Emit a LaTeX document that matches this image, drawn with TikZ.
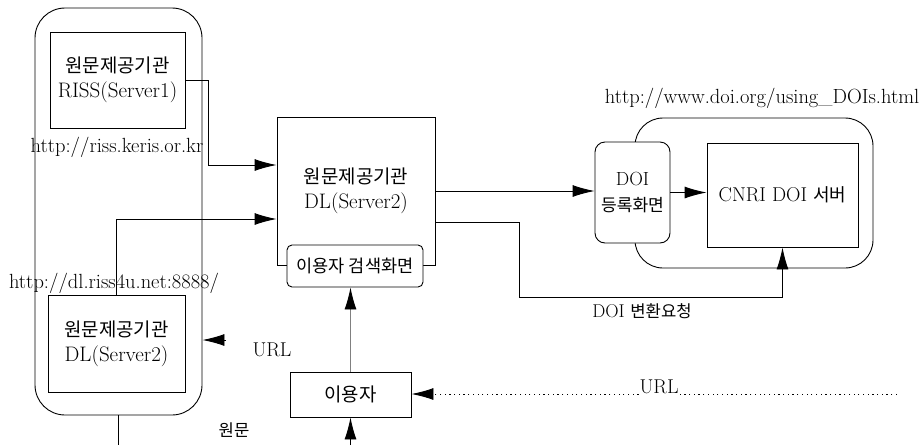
\documentclass[tikz,border=0pt]{standalone}
\usepackage{fontspec}
\newfontfamily\krfont[Scale=0.9]{Noto Sans CJK KR}
\usetikzlibrary{arrows.meta,calc}
\newcommand{\kr}[1]{{\krfont #1}}

\begin{document}
\begin{tikzpicture}[x=1pt,y=-1pt,line width=0.9pt,
    >={Latex[length=22pt,width=12pt]},
    box/.style={draw,fill=white,align=center,inner sep=2pt,
      font=\fontsize{21}{25}\selectfont},
    lbl/.style={inner sep=0pt,font=\fontsize{20.5}{24}\selectfont},
    small/.style={inner sep=0pt,font=\fontsize{18.5}{22}\selectfont}]
  \useasboundingbox (0,0) rectangle (919,445);

  \node[draw,rounded corners=30pt,minimum width=167pt,minimum height=407pt] (leftgrp) at (118.5,211.5) {};
  \node[draw,rounded corners=28pt,minimum width=238pt,minimum height=150pt] (doigrp) at (754,193) {};

  \node[box,minimum width=135pt,minimum height=96pt] (riss) at (117.5,80) {\kr{원문제공기관}\\RISS(Server1)};
  \node[box,minimum width=137pt,minimum height=97pt] (dl) at (116.5,343.5) {\kr{원문제공기관}\\DL(Server2)};
  \node[box,minimum width=158pt,minimum height=148pt] (srv) at (356,191) {\kr{원문제공기관}\\DL(Server2)};
  \node[box,rounded corners=5pt,minimum width=136pt,minimum height=42pt,
    font=\fontsize{19.5}{22}\selectfont] (search) at (355,266) {\kr{이용자 검색화면}};
  \node[box,minimum width=121pt,minimum height=45pt] (user) at (350.5,394.5) {\kr{이용자}};
  \node[box,rounded corners=10pt,minimum width=75pt,minimum height=101pt,
    font=\fontsize{19}{26}\selectfont] (doi) at (632.5,192.5) {DOI\\\kr{등록화면}};
  \node[box,minimum width=151pt,minimum height=104pt,
    font=\fontsize{20}{24}\selectfont] (cnri) at (782.5,195) {CNRI DOI \kr{서버}};

  \node[lbl] (rissurl) at (117,147) {http://riss.keris.or.kr};
  \node[lbl] (dlurl) at (114,283) {http://dl.riss4u.net:8888/};
  \node[lbl] (doiurl) at (762,98) {http://www.doi.org/using\_DOIs.html};
  \node[small] (req) at (642,311) {DOI \kr{변환요청}};
  \node[lbl,font=\fontsize{20}{24}\selectfont] (urla) at (272,350) {URL};
  \node[small] (orig) at (234,430) {\kr{원문}};

  \coordinate (rissbend) at (208,165);
  \coordinate (dlbend) at (118,219);
  \coordinate (reqbend) at (519,297);
  \coordinate (userbot) at (350.5,445);
  \coordinate (leftbot) at (118.5,445);
  \coordinate (urltail) at (226,340);
  \coordinate (dotend) at (897,394);

  \draw[->] (riss.east) -| (rissbend) -- (rissbend -| srv.west);
  \draw[->] (dl.north) |- (dlbend -| srv.west);
  \draw[->] (srv.east) -- (srv.east -| doi.west);
  \draw[->] (doi.east) -- (doi.east -| cnri.west);
  \draw[->] ([yshift=-31pt]srv.east) -| (reqbend) -| (cnri.south);
  \draw[-{Latex[length=22pt,width=12pt,black]},gray] (user.north) -- (user.north |- search.south);
  \draw[->] (userbot) -- (user.south);
  \draw (leftgrp.south) -- (leftbot);
  \draw[->] (urltail) -- (urltail -| leftgrp.east);
  \draw[->,dash pattern=on 1.2pt off 3.5pt] (dotend) -- (dotend -| user.east)
    node[pos=0.49,yshift=7pt,fill=white,inner sep=1pt,font=\fontsize{20}{24}\selectfont] (urlb) {URL};
\end{tikzpicture}
\end{document}
